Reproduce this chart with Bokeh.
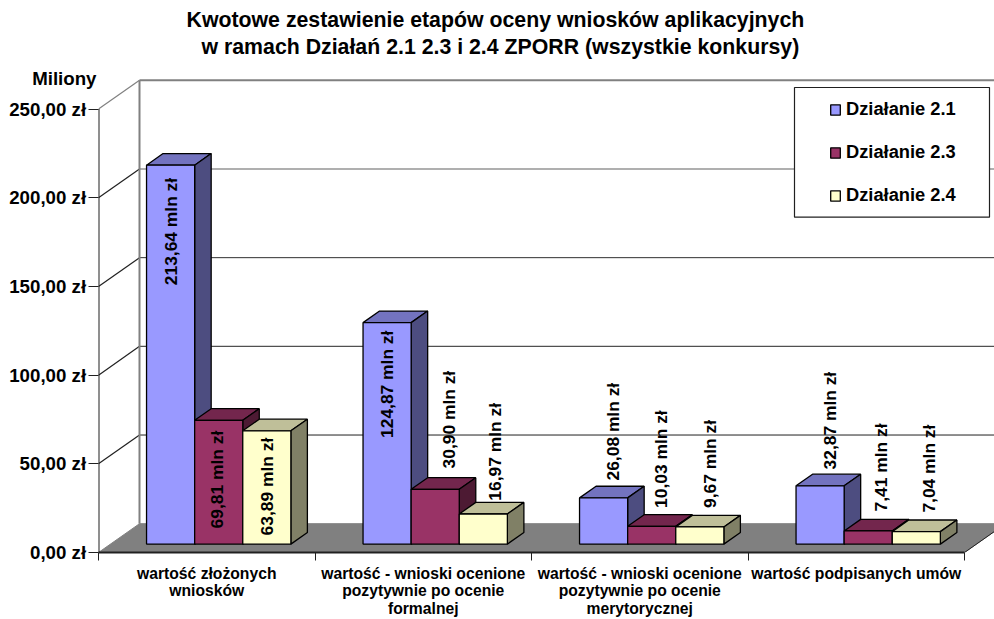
from bokeh.core.properties import value
from bokeh.embed import file_html
from bokeh.models import ColumnDataSource, FixedTicker, Legend, LegendItem, Range1d, Title, AllLabels
from bokeh.plotting import figure
from bokeh.resources import INLINE
import math

# ---- data ----
categories = ["wartość złożonych\nwniosków",
              "wartość - wnioski ocenione\npozytywnie po ocenie\nformalnej",
              "wartość - wnioski ocenione\npozytywnie po ocenie\nmerytorycznej",
              "wartość podpisanych umów"]
series_names = ["Działanie 2.1", "Działanie 2.3", "Działanie 2.4"]
dzialanie_21 = [213.64, 124.87, 26.08, 32.87]
dzialanie_23 = [69.81, 30.90, 10.03, 7.41]
dzialanie_24 = [63.89, 16.97, 9.67, 7.04]
y_ticks = [0, 50, 100, 150, 200, 250]
y_tick_labels = ["0,00 zł", "50,00 zł", "100,00 zł", "150,00 zł", "200,00 zł", "250,00 zł"]
y_unit_label = "Miliony"
title_line_1 = "Kwotowe zestawienie etapów oceny wniosków aplikacyjnych"
title_line_2 = "w ramach Działań 2.1 2.3 i 2.4 ZPORR (wszystkie konkursy)"

# ---- layout / style ----
W, H = 994, 619
LEFT, BOTTOM, TOP = 98, 67, 64          # borders around the plot frame (px)
FW, FH = W - LEFT, H - BOTTOM - TOP
PX_X = 216.5                            # px per category
PX_Y = 1.7736                           # px per value unit
DEPTH_X, DEPTH_Y = 41.0, 28.8           # full depth of the 3-D box (px)
Z0, Z1 = 8.4 / 28.8, 20.0 / 28.8        # bar front / back plane as a fraction of the depth
GAP, BAR_W = 1 / 6, 2 / 9
UNIT_LABEL_AT = (552 - 78) / PX_Y       # height of the unit caption on the value axis

FONT = "Liberation Sans"
fills = [("#9999FF", "#7373BF", "#4D4D80"),
         ("#993366", "#73264D", "#4D1A33"),
         ("#FFFFCC", "#BFBF99", "#808066")]
# data-label placement relative to the top of the bar's front face (dx, dy in px; + = right/down)
label_offsets = [
    [(0, 12.7), (-2, 10.5), (0, 7)],
    [(0, 8), (14, -118.5), (11.4, -111)],
    [(9, -115), (9.5, -116), (10, -107)],
    [(9.5, -114), (13, -107.5), (12.5, -107)],
]
label_data = [
    ["213,64 mln zł", "124,87 mln zł", "26,08 mln zł", "32,87 mln zł"],
    ["69,81 mln zł", "30,90 mln zł", "10,03 mln zł", "7,41 mln zł"],
    ["63,89 mln zł", "16,97 mln zł", "9,67 mln zł", "7,04 mln zł"],
]


def proj(cat, val, z):
    """Oblique projection of (category position, value, depth) on to the plot's data axes."""
    return cat + z * DEPTH_X / PX_X, val + z * DEPTH_Y / PX_Y


p = figure(frame_width=FW, frame_height=FH, output_backend="svg", toolbar_location=None,
           x_range=Range1d(0, FW / PX_X), y_range=Range1d(0, FH / PX_Y),
           min_border_left=LEFT, min_border_right=0, min_border_bottom=BOTTOM, min_border_top=TOP,
           background_fill_color="white", border_fill_color="white", outline_line_color=None)
p.grid.visible = False

# floor
fl = [proj(0, 0, 0), proj(0, 0, 1), proj(4, 0, 1), proj(4, 0, 0)]
p.patch([c[0] for c in fl], [c[1] for c in fl], fill_color="#808080", line_color="#808080", line_width=1)

# walls: diagonals on the side wall, gridlines on the back wall, and the back-left edge
grid_cols = {50: "#202020", 100: "#505050", 150: "#303030", 200: "#606060", 250: "#808080"}
grid_wid = {50: 1, 100: 1.2, 150: 1, 200: 1.2, 250: 2}
for v in y_ticks[1:]:
    a, b = proj(0, v, 0), proj(0, v, 1)
    c = proj(4, v, 1)
    p.line([a[0], b[0]], [a[1], b[1]], line_color="#808080" if v == 250 else "#202020", line_width=1.2)
    p.line([b[0], c[0]], [b[1], c[1]], line_color=grid_cols[v], line_width=grid_wid[v])
a, b = proj(0, 0, 1), proj(0, 250, 1)
p.line([a[0], b[0]], [a[1], b[1]], line_color="#808080", line_width=2)
a, b = proj(4, 0, 0), proj(4, 0, 1)
p.line([a[0], b[0]], [a[1], b[1]], line_color="#202020", line_width=1)
# value-axis line (the axis's own line would run up to the unit caption)
p.line([0, 0], [0, 250], line_color="#202020", line_width=2)

# bars
legend_items = []
all_series = [dzialanie_21, dzialanie_23, dzialanie_24]
for s, vals in enumerate(all_series):
    front_x, front_y, top_x, top_y, side_x, side_y = [], [], [], [], [], []
    for g, v in enumerate(vals):
        x0, x1 = g + GAP + s * BAR_W, g + GAP + (s + 1) * BAR_W
        f = [proj(x0, 0, Z0), proj(x1, 0, Z0), proj(x1, v, Z0), proj(x0, v, Z0)]
        t = [proj(x0, v, Z0), proj(x1, v, Z0), proj(x1, v, Z1), proj(x0, v, Z1)]
        d = [proj(x1, 0, Z0), proj(x1, 0, Z1), proj(x1, v, Z1), proj(x1, v, Z0)]
        front_x.append([c[0] for c in f]); front_y.append([c[1] for c in f])
        top_x.append([c[0] for c in t]); top_y.append([c[1] for c in t])
        side_x.append([c[0] for c in d]); side_y.append([c[1] for c in d])
    col_front, col_top, col_side = fills[s]
    p.patches(top_x, top_y, fill_color=col_top, line_color="black", line_width=1.3)
    p.patches(side_x, side_y, fill_color=col_side, line_color="black", line_width=1.3)
    r = p.patches(front_x, front_y, fill_color=col_front, line_color="black", line_width=1.3)
    legend_items.append(LegendItem(label=series_names[s], renderers=[r]))

# data labels
lx, ly, lt, ldx, ldy = [], [], [], [], []
for s, vals in enumerate(all_series):
    for g, v in enumerate(vals):
        cx, cy = proj(g + GAP + (s + 0.5) * BAR_W, v, Z0)
        lx.append(cx); ly.append(cy); lt.append(label_data[s][g])
        ldx.append(label_offsets[g][s][0]); ldy.append(label_offsets[g][s][1])
p.text(x="x", y="y", text="t", x_offset="dx", y_offset="dy",
       source=ColumnDataSource(dict(x=lx, y=ly, t=lt, dx=ldx, dy=ldy)),
       angle=math.pi / 2, text_align="right", text_baseline="middle",
       text_font=value(FONT), text_font_style="bold", text_font_size="17.4px", text_color="black")

# axes
ya = p.yaxis[0]
ya.ticker = FixedTicker(ticks=y_ticks + [UNIT_LABEL_AT], minor_ticks=y_ticks)
overrides = {t: lab + "\u00a0\u00a0" for t, lab in zip(y_ticks, y_tick_labels)}
overrides[UNIT_LABEL_AT] = y_unit_label
ya.major_label_overrides = overrides
ya.major_label_policy = AllLabels()
ya.bounds = (0, UNIT_LABEL_AT + 1)
ya.axis_line_color = None
ya.major_tick_in = 0
ya.major_tick_out = 0
ya.minor_tick_in = 0
ya.minor_tick_out = 10
ya.minor_tick_line_color = "#202020"
ya.major_label_standoff = -8
ya.major_label_text_font = FONT
ya.major_label_text_font_style = "bold"
ya.major_label_text_font_size = "18.7px"
ya.major_label_text_color = "black"

xa = p.xaxis[0]
centers = [0.5, 1.5, 2.5, 3.5]
xa.ticker = FixedTicker(ticks=centers, minor_ticks=[0, 1, 2, 3, 4])
xa.major_label_overrides = dict(zip(centers, categories))
xa.major_label_policy = AllLabels()
xa.bounds = (0, 4)
xa.axis_line_color = "#202020"
xa.axis_line_width = 2
xa.major_tick_in = xa.major_tick_out = 0
xa.minor_tick_in = 0
xa.minor_tick_out = 8
xa.minor_tick_line_color = "#202020"
xa.major_label_standoff = 4
xa.major_label_text_font = FONT
xa.major_label_text_font_style = "bold"
xa.major_label_text_font_size = "15.7px"
xa.major_label_text_color = "black"
xa.major_label_text_line_height = 1.03

# titles
for txt, off, so in ((title_line_2, 103, 11), (title_line_1, 88, -8)):
    p.add_layout(Title(text=txt, align="left", offset=off, text_font=FONT, text_font_style="bold",
                       text_font_size="21.3px", text_color="black", standoff=so), "above")

# legend
bx0, bx1 = (794 - 98) / PX_X, (989 - 98) / PX_X
by0, by1 = (552 - 216.7) / PX_Y, (552 - 87) / PX_Y
p.quad(left=bx0, right=bx1, bottom=by0, top=by1, fill_color="white", line_color="#202020", line_width=1.2)
lg = Legend(items=legend_items, location=(829 - 98, 552 - 206), orientation="vertical",
            padding=0, margin=0, spacing=21, glyph_width=12, glyph_height=13, label_standoff=5,
            background_fill_alpha=0, border_line_alpha=0, label_text_font=FONT,
            label_text_font_style="bold", label_text_font_size="18.3px", label_text_color="black")
p.add_layout(lg, "center")

open("out.html", "w").write(file_html(p, INLINE))
